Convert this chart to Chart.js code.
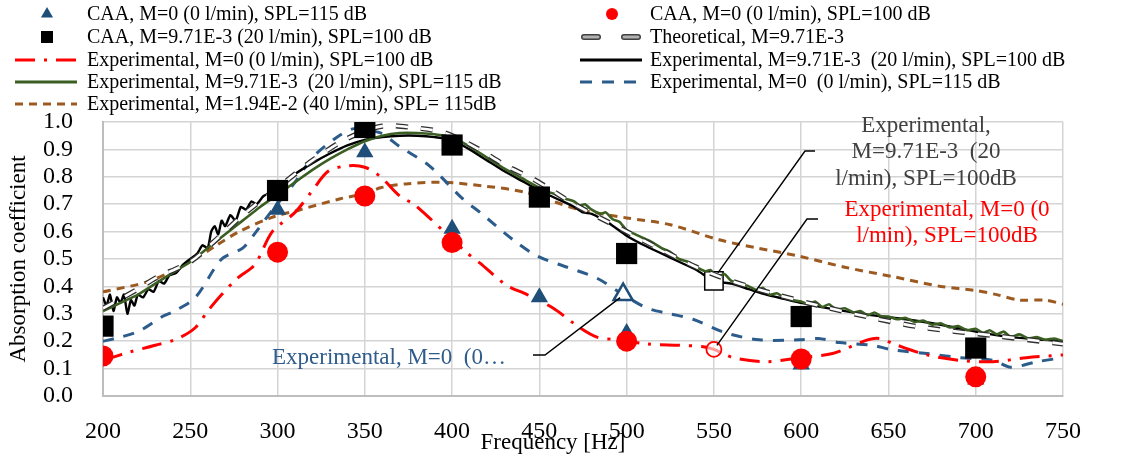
<!DOCTYPE html>
<html>
<head>
<meta charset="utf-8">
<script src="https://cdn.jsdelivr.net/npm/chart.js@4/dist/chart.umd.min.js"></script>
<style>
  html, body { margin: 0; padding: 0; background: #fff; }
  #wrap { width: 1127px; height: 457px; }
</style>
</head>
<body>
<div id="wrap"><canvas id="chart"></canvas></div>
<script>
const SERIF = '"Liberation Serif", "DejaVu Serif", serif';

// axis ranges
const freqRange = [200, 750, 50];
const alphaRange = [0, 1, 0.1];

// CAA results [frequency Hz, absorption]
const caaM0spl115 = [[300,0.68],[350,0.89],[400,0.61],[450,0.36],[500,0.23],[600,0.115],[700,0.06]];
const caaM0spl100 = [[200,0.146],[300,0.525],[350,0.73],[400,0.56],[500,0.20],[600,0.135],[700,0.07]];
const caaM971spl100 = [[200,0.255],[300,0.75],[350,0.98],[400,0.916],[450,0.726],[500,0.52],[600,0.29],[700,0.175]];

const theoretical = [[200,0.32],[220,0.39],[230,0.43],[250,0.49],[263,0.56],[280,0.66],[300,0.76],[310,0.81],[320,0.86],
  [340,0.94],[360,0.985],[377,0.98],[396,0.96],[414,0.905],[431,0.84],[447,0.79],[470,0.70],[500,0.60],[515,0.55],
  [540,0.47],[560,0.42],[586,0.37],[610,0.33],[641,0.285],[670,0.25],[711,0.22],[750,0.19]];

const expM0spl100 = [[200,0.13],[205,0.14],[215,0.16],[230,0.185],[243,0.21],[253,0.25],[260,0.31],[268,0.37],[277,0.43],
  [287,0.48],[297,0.60],[310,0.67],[320,0.75],[329,0.82],[340,0.84],[350,0.835],[359,0.80],[370,0.73],[378,0.70],
  [387,0.65],[397,0.59],[408,0.525],[416,0.485],[431,0.405],[443,0.37],[458,0.32],[473,0.25],[483,0.215],[495,0.205],
  [512,0.19],[530,0.185],[544,0.18],[550,0.17],[561,0.14],[580,0.125],[599,0.14],[618,0.155],[638,0.205],[645,0.21],
  [653,0.19],[672,0.15],[691,0.13],[710,0.125],[729,0.14],[750,0.15]];

const expM971spl100 = [[200,0.36],[202,0.33],[204,0.37],[206,0.31],[208,0.36],[210,0.34],[212,0.37],[214,0.30],[216,0.35],
  [218,0.33],[220,0.37],[223,0.36],[226,0.39],[229,0.38],[232,0.42],[235,0.41],[238,0.44],[242,0.45],[246,0.48],[250,0.50],
  [254,0.52],[257,0.55],[260,0.54],[262,0.60],[264,0.62],[266,0.59],[268,0.64],[270,0.62],[273,0.66],[276,0.64],[279,0.69],
  [282,0.68],[285,0.71],[288,0.70],[292,0.73],[296,0.74],[300,0.76],[310,0.81],[320,0.85],[330,0.885],[340,0.915],
  [350,0.935],[360,0.945],[370,0.95],[380,0.95],[390,0.945],[400,0.935],[410,0.90],[420,0.86],[430,0.82],[440,0.785],
  [450,0.75],[460,0.72],[470,0.69],[475,0.67],[480,0.665],[490,0.63],[500,0.585],[510,0.55],[520,0.52],[530,0.49],
  [540,0.46],[550,0.42],[560,0.41],[570,0.39],[580,0.37],[590,0.355],[600,0.34],[620,0.315],[640,0.295],[660,0.28],
  [680,0.26],[700,0.235],[720,0.215],[740,0.205],[750,0.20]];

const expM971spl115 = [[200,0.31],[210,0.34],[220,0.37],[230,0.41],[240,0.45],[250,0.49],[260,0.54],[270,0.59],[280,0.64],
  [290,0.69],[300,0.735],[310,0.78],[320,0.825],[330,0.865],[340,0.90],[350,0.93],[360,0.95],[370,0.96],[380,0.96],
  [390,0.955],[400,0.945],[410,0.91],[420,0.87],[430,0.83],[440,0.795],[450,0.76],[455,0.745],[460,0.735],[465,0.72],
  [470,0.71],[473,0.695],[476,0.70],[480,0.68],[485,0.665],[488,0.67],[492,0.645],[496,0.635],[500,0.605],[505,0.59],
  [510,0.575],[515,0.56],[520,0.54],[525,0.525],[530,0.50],[535,0.49],[540,0.47],[545,0.455],[548,0.46],[552,0.435],
  [556,0.445],[560,0.42],[565,0.41],[570,0.40],[575,0.385],[578,0.395],[582,0.37],[586,0.375],[590,0.36],[595,0.35],
  [600,0.345],[604,0.335],[608,0.345],[612,0.325],[616,0.335],[620,0.315],[625,0.32],[630,0.305],[634,0.31],[638,0.295],
  [642,0.305],[646,0.29],[650,0.29],[655,0.28],[660,0.285],[665,0.27],[670,0.275],[675,0.26],[680,0.265],[685,0.25],
  [690,0.255],[695,0.24],[700,0.245],[704,0.23],[708,0.24],[712,0.225],[716,0.235],[720,0.215],[725,0.225],[730,0.21],
  [735,0.215],[740,0.205],[745,0.21],[750,0.20]];

const expM0spl115 = [[200,0.20],[207,0.21],[220,0.235],[234,0.29],[241,0.31],[253,0.36],[268,0.50],[280,0.54],[289,0.61],
  [296,0.67],[310,0.78],[320,0.87],[333,0.94],[343,0.975],[350,0.97],[359,0.96],[370,0.91],[387,0.84],[406,0.72],
  [416,0.67],[435,0.57],[449,0.51],[466,0.47],[483,0.43],[498,0.37],[512,0.32],[525,0.30],[538,0.28],[557,0.23],
  [576,0.205],[599,0.205],[610,0.21],[622,0.195],[641,0.185],[651,0.17],[672,0.155],[691,0.14],[710,0.13],[720,0.105],
  [735,0.125],[750,0.14]];

const expM194spl115 = [[200,0.38],[227,0.42],[250,0.49],[265,0.55],[278,0.60],[296,0.65],[313,0.68],[336,0.72],[351,0.74],
  [359,0.76],[375,0.775],[395,0.78],[420,0.765],[441,0.745],[458,0.71],[473,0.68],[500,0.65],[525,0.625],[553,0.57],
  [575,0.54],[599,0.51],[625,0.47],[653,0.435],[680,0.40],[700,0.385],[712,0.37],[725,0.35],[740,0.35],[750,0.335]];

const legendLabels = [
  'CAA, M=0 (0 l/min), SPL=115 dB',
  'CAA, M=0 (0 l/min), SPL=100 dB',
  'CAA, M=9.71E-3 (20 l/min), SPL=100 dB',
  'Theoretical, M=9.71E-3',
  'Experimental, M=0 (0 l/min), SPL=100 dB',
  'Experimental, M=9.71E-3  (20 l/min), SPL=100 dB',
  'Experimental, M=9.71E-3  (20 l/min), SPL=115 dB',
  'Experimental, M=0  (0 l/min), SPL=115 dB',
  'Experimental, M=1.94E-2 (40 l/min), SPL= 115dB'
];

// data-labelled points (frequency of the labelled point in each series)
const labelAtBlue = 498;
const labelAtBlack = 550;
const labelAtRed = 550;

const pts = arr => arr.map(p => ({x: p[0], y: p[1]}));
const findPt = (arr, f) => arr.find(p => p[0] === f);

const BLUE = '#1f4e79';
const BLUE_DASH = '#2b5c8c';
const RED = '#ff0000';
const GREEN = '#3b5e22';
const BROWN = '#9c5a20';

const markerOnly = { showLine: false, borderWidth: 0 };
const lineOnly = { pointRadius: 0, fill: false, tension: 0.3 };

const datasets = [
  { label: legendLabels[2], data: pts(caaM971spl100), ...markerOnly, pointStyle: 'rect', pointRadius: 15, backgroundColor: '#000' },
  { label: legendLabels[1], data: pts(caaM0spl100), ...markerOnly, pointStyle: 'circle', pointRadius: 10.5, backgroundColor: RED },
  { label: legendLabels[0], data: pts(caaM0spl115), ...markerOnly, pointStyle: 'triangle', pointRadius: 10, backgroundColor: BLUE },
  { label: 'theoInner', data: pts(theoretical), ...lineOnly, borderColor: '#ffffff', borderWidth: 2.6, borderDash: [12, 13] },
  { label: legendLabels[3], data: pts(theoretical), ...lineOnly, borderColor: '#303030', borderWidth: 5.2, borderDash: [12, 13] },
  { label: legendLabels[6], data: pts(expM971spl115), ...lineOnly, tension: 0.2, borderColor: GREEN, borderWidth: 2.6 },
  { label: legendLabels[5], data: pts(expM971spl100), ...lineOnly, tension: 0.2, borderColor: '#000', borderWidth: 2.4,
    pointRadius: c => (c.raw && c.raw.x === labelAtBlack) ? 13 : 0, pointStyle: 'rect',
    pointBackgroundColor: '#fff', pointBorderColor: '#000', pointBorderWidth: 1.5 },
  { label: legendLabels[4], data: pts(expM0spl100), ...lineOnly, borderColor: RED, borderWidth: 3, borderDash: [20, 9, 3, 9],
    pointRadius: c => (c.raw && c.raw.x === labelAtRed) ? 7.5 : 0, pointStyle: 'circle',
    pointBackgroundColor: 'rgba(255,255,255,0.6)', pointBorderColor: RED, pointBorderWidth: 1.8 },
  { label: legendLabels[7], data: pts(expM0spl115), ...lineOnly, borderColor: BLUE_DASH, borderWidth: 3, borderDash: [11, 10],
    pointRadius: c => (c.raw && c.raw.x === labelAtBlue) ? 11 : 0, pointStyle: 'triangle',
    pointBackgroundColor: '#fff', pointBorderColor: BLUE, pointBorderWidth: 2.5 },
  { label: legendLabels[8], data: pts(expM194spl115), ...lineOnly, borderColor: BROWN, borderWidth: 3, borderDash: [8, 6] }
];

// legend entries in reading order (two columns)
const legendItems = [
  { kind: 'point', style: 'triangle', r: 7, color: BLUE },
  { kind: 'point', style: 'circle', r: 6, color: RED },
  { kind: 'point', style: 'rect', r: 8.5, color: '#000' },
  { kind: 'theo' },
  { kind: 'line', color: RED, width: 3, dash: [20, 9, 3, 9] },
  { kind: 'line', color: '#000', width: 3, dash: [] },
  { kind: 'line', color: GREEN, width: 3, dash: [] },
  { kind: 'line', color: BLUE_DASH, width: 3, dash: [12, 10] },
  { kind: 'line', color: BROWN, width: 3, dash: [8, 6] }
];

const overlay = {
  id: 'overlay',
  afterDraw(chart) {
    const { ctx, scales: { x, y } } = chart;
    ctx.save();

    // legend
    const rowsY = [14, 37, 60, 82, 104];
    const cols = [{ x0: 15, x1: 77, mx: 47, tx: 87 }, { x0: 580, x1: 642, mx: 612, tx: 650 }];
    ctx.font = '20px ' + SERIF;
    ctx.textBaseline = 'middle';
    ctx.textAlign = 'left';
    legendItems.forEach((it, i) => {
      const col = cols[i % 2];
      const ry = rowsY[Math.floor(i / 2)];
      ctx.setLineDash([]);
      if (it.kind === 'point') {
        ctx.fillStyle = it.color;
        Chart.helpers.drawPoint(ctx, { pointStyle: it.style, radius: it.r, rotation: 0, borderWidth: 0 }, col.mx, ry);
      } else if (it.kind === 'theo') {
        ctx.lineCap = 'round';
        [[col.x0 + 4, col.x0 + 18], [col.x1 - 18, col.x1 - 4]].forEach(seg => {
          ctx.strokeStyle = '#404040'; ctx.lineWidth = 6;
          ctx.beginPath(); ctx.moveTo(seg[0], ry); ctx.lineTo(seg[1], ry); ctx.stroke();
          ctx.strokeStyle = '#b0b0b0'; ctx.lineWidth = 3;
          ctx.beginPath(); ctx.moveTo(seg[0], ry); ctx.lineTo(seg[1], ry); ctx.stroke();
        });
        ctx.lineCap = 'butt';
      } else {
        ctx.strokeStyle = it.color; ctx.lineWidth = it.width;
        ctx.setLineDash(it.dash);
        ctx.beginPath(); ctx.moveTo(col.x0, ry); ctx.lineTo(col.x1, ry); ctx.stroke();
        ctx.setLineDash([]);
      }
      ctx.fillStyle = '#000';
      ctx.fillText(legendLabels[i], col.tx, ry + 1);
    });

    // x axis title
    ctx.font = '23px ' + SERIF;
    ctx.textAlign = 'center';
    ctx.fillStyle = '#000';
    ctx.fillText('Frequency [Hz]', 553, 443);

    // data-label leader lines
    const leader = (pt, elbowA, elbowB, off) => {
      const px = x.getPixelForValue(pt[0]) + off[0];
      const py = y.getPixelForValue(pt[1]) + off[1];
      ctx.strokeStyle = '#000'; ctx.lineWidth = 1.4; ctx.setLineDash([]);
      ctx.beginPath();
      ctx.moveTo(elbowA[0], elbowA[1]); ctx.lineTo(elbowB[0], elbowB[1]); ctx.lineTo(px, py);
      ctx.stroke();
    };
    leader(findPt(expM0spl115, labelAtBlue), [533, 355], [545, 355], [-3, 3]);
    leader(findPt(expM971spl100, labelAtBlack), [815, 151], [805, 151], [4, -8]);
    leader(findPt(expM0spl100, labelAtRed), [818, 219], [807, 219], [3, -4]);

    // data labels
    ctx.font = '23px ' + SERIF;
    ctx.textAlign = 'left';
    ctx.fillStyle = '#2f5c8a';
    ctx.fillText('Experimental, M=0  (0\u2026', 272, 358);

    ctx.textAlign = 'center';
    ctx.fillStyle = '#404040';
    ctx.fillText('Experimental,', 926, 126);
    ctx.fillText('M=9.71E-3  (20', 926, 152);
    ctx.fillText('l/min), SPL=100dB', 926, 179);

    ctx.fillStyle = RED;
    ctx.fillText('Experimental, M=0 (0', 947, 210);
    ctx.fillText('l/min), SPL=100dB', 947, 236);

    ctx.restore();
  }
};

new Chart(document.getElementById('chart'), {
  type: 'line',
  data: { datasets },
  options: {
    responsive: true,
    maintainAspectRatio: false,
    animation: false,
    layout: { padding: { top: 122, right: 64, left: 0, bottom: 0 } },
    plugins: { legend: { display: false }, tooltip: { enabled: false } },
    scales: {
      x: {
        type: 'linear',
        min: freqRange[0], max: freqRange[1],
        ticks: { stepSize: freqRange[2], autoSkip: false, maxRotation: 0, padding: 21, color: '#000',
          font: { family: SERIF, size: 24 } },
        grid: { color: '#d4d4d4', lineWidth: 1.5, drawTicks: false },
        border: { color: '#bdbdbd', width: 2 },
        afterFit: s => { s.height = 61; }
      },
      y: {
        min: alphaRange[0], max: alphaRange[1],
        ticks: { stepSize: alphaRange[2], autoSkip: false, padding: 30, color: '#000',
          font: { family: SERIF, size: 24 }, callback: v => Number(v).toFixed(1) },
        grid: { color: '#d4d4d4', lineWidth: 1.5, drawTicks: false },
        border: { color: '#bdbdbd', width: 2 },
        title: { display: true, text: 'Absorption coefficient', color: '#000',
          font: { family: SERIF, size: 23 }, padding: { top: 5, bottom: 0 } },
        afterFit: s => { s.width = 103; }
      }
    }
  },
  plugins: [overlay]
});
</script>
</body>
</html>
